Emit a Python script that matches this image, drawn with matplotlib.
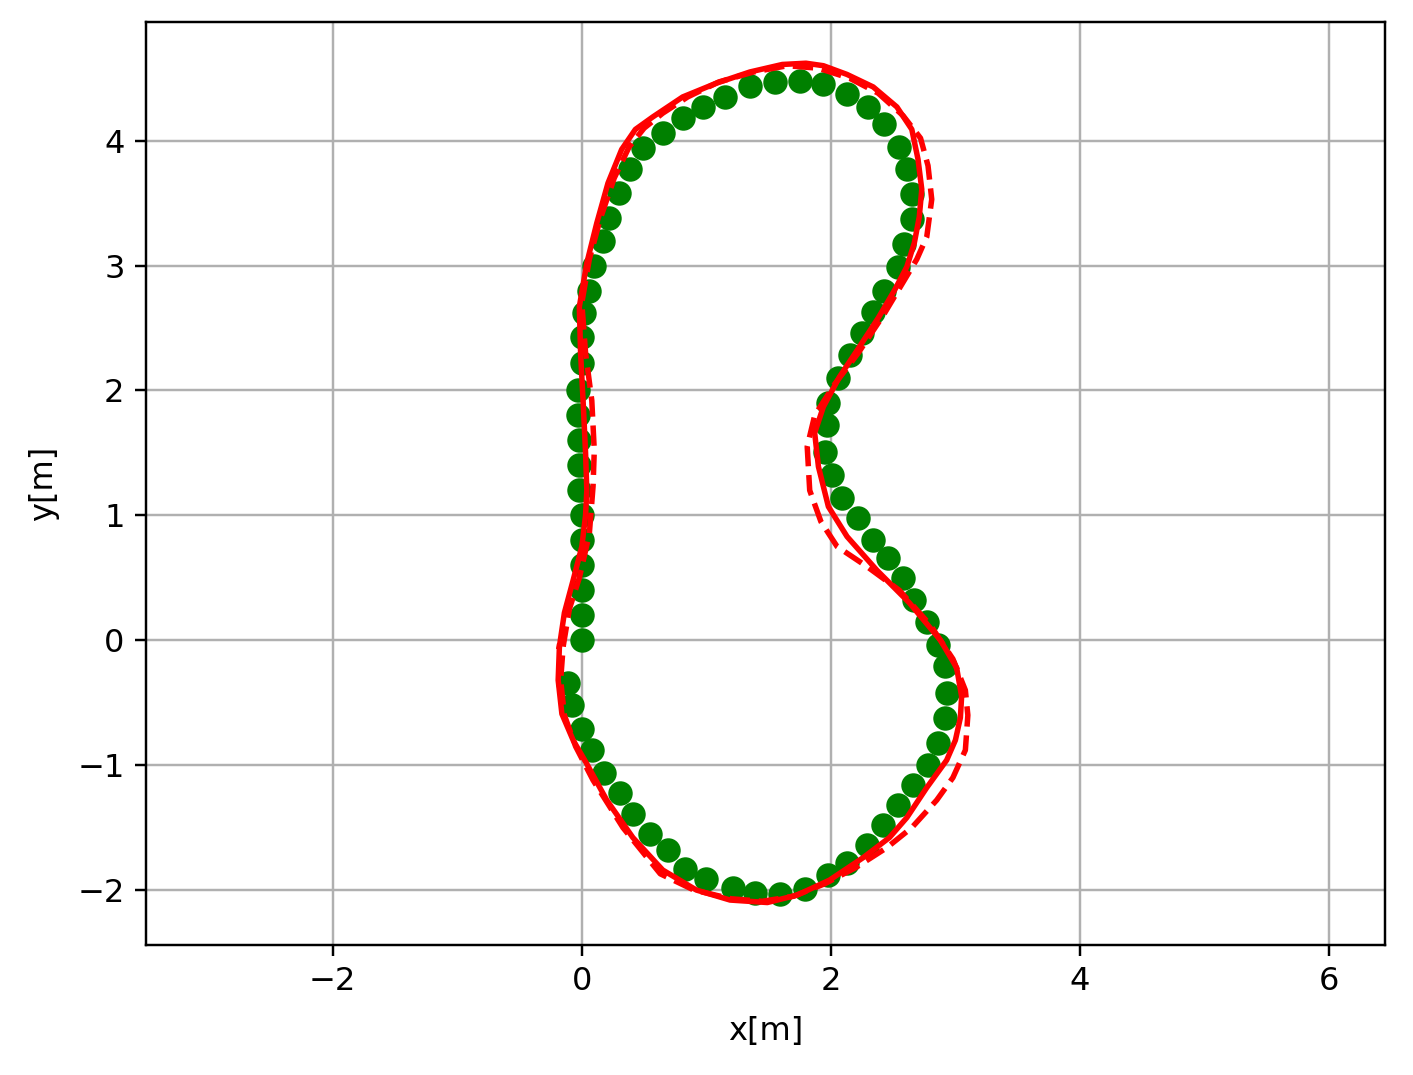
import numpy as np
import matplotlib.pyplot as plt

plt.rcParams['font.size'] = 10.5

# reference waypoints (green dots)
wp_x = [0.0, 0.0, 0.0, 0.0, 0.0, 0.0, -0.02, -0.02, -0.02, -0.03, -0.03, 0.0, 0.005, 0.02,
        0.06, 0.1, 0.17, 0.22, 0.3, 0.39, 0.49, 0.65, 0.81, 0.97, 1.15, 1.35, 1.55, 1.75,
        1.94, 2.13, 2.30, 2.43, 2.55, 2.61, 2.65, 2.65, 2.59, 2.54, 2.43, 2.34, 2.25, 2.15,
        2.06, 1.98, 1.97, 1.95, 2.01, 2.09, 2.22, 2.34, 2.46, 2.58, 2.67, 2.77, 2.86, 2.92,
        2.93, 2.92, 2.86, 2.78, 2.66, 2.54, 2.42, 2.29, 2.13, 1.98, 1.79, 1.59, 1.39, 1.21,
        1.0, 0.83, 0.69, 0.55, 0.41, 0.31, 0.18, 0.08, 0.0, -0.08, -0.11]
wp_y = [0.0, 0.2, 0.4, 0.6, 0.8, 1.0, 1.2, 1.4, 1.6, 1.8, 2.0, 2.22, 2.43, 2.62,
        2.80, 3.0, 3.2, 3.38, 3.58, 3.77, 3.94, 4.06, 4.18, 4.27, 4.35, 4.44, 4.47, 4.48,
        4.45, 4.37, 4.27, 4.13, 3.95, 3.77, 3.57, 3.37, 3.17, 2.99, 2.80, 2.63, 2.46, 2.28,
        2.10, 1.90, 1.72, 1.51, 1.32, 1.14, 0.98, 0.80, 0.66, 0.50, 0.32, 0.15, -0.04, -0.21,
        -0.42, -0.62, -0.82, -1.0, -1.16, -1.32, -1.48, -1.64, -1.78, -1.88, -1.99, -2.03, -2.02, -1.98,
        -1.91, -1.83, -1.68, -1.55, -1.39, -1.22, -1.06, -0.88, -0.71, -0.52, -0.34]

# tracked trajectory (solid red)
traj_x = [-0.18, -0.14, -0.07, 0.0, 0.03, 0.04, 0.03, 0.01, -0.01, -0.02, 0.04, 0.12, 0.21,
          0.32, 0.43, 0.57, 0.81, 1.08, 1.35, 1.61, 1.80, 1.94, 2.13, 2.34, 2.53, 2.65, 2.70,
          2.73, 2.71, 2.67, 2.61, 2.51, 2.38, 2.21, 2.07, 1.94, 1.87, 1.90, 1.98, 2.13, 2.37,
          2.63, 2.88, 3.01, 3.05, 3.04, 3.0, 2.93, 2.77, 2.61, 2.47, 2.26, 1.99, 1.73, 1.49,
          1.19, 0.92, 0.65, 0.41, 0.2, 0.04, -0.07, -0.16, -0.19, -0.18]
traj_y = [-0.05, 0.22, 0.48, 0.75, 1.0, 1.2, 1.5, 1.92, 2.3, 2.67, 3.02, 3.34, 3.66,
          3.93, 4.09, 4.19, 4.35, 4.46, 4.55, 4.61, 4.62, 4.60, 4.53, 4.43, 4.27, 4.09, 3.85,
          3.61, 3.39, 3.18, 2.99, 2.80, 2.58, 2.32, 2.11, 1.87, 1.66, 1.39, 1.07, 0.83, 0.56,
          0.30, 0.0, -0.22, -0.45, -0.62, -0.80, -0.96, -1.18, -1.42, -1.58, -1.74, -1.92, -2.04, -2.10,
          -2.08, -2.0, -1.84, -1.58, -1.28, -0.99, -0.80, -0.59, -0.32, -0.05]

# second trajectory (dashed red)
traj2_x = [-0.15, -0.10, -0.02, 0.06, 0.09, 0.10, 0.08, 0.03, 0.0, 0.06, 0.15, 0.26, 0.38,
           0.50, 0.65, 0.85, 1.1, 1.38, 1.65, 1.90, 2.15, 2.38, 2.58, 2.72, 2.78, 2.81, 2.77,
           2.69, 2.57, 2.42, 2.22, 2.03, 1.87, 1.81, 1.83, 1.92, 2.05, 2.29, 2.55, 2.80, 2.98,
           3.08, 3.10, 3.08, 2.98, 2.85, 2.65, 2.45, 2.20, 1.95, 1.70, 1.45, 1.20, 0.90, 0.63,
           0.33, 0.09, -0.05, -0.14, -0.17, -0.15]
traj2_y = [-0.05, 0.25, 0.5, 0.85, 1.23, 1.52, 1.92, 2.3, 2.7, 3.05, 3.38, 3.70, 3.95,
           4.10, 4.22, 4.35, 4.47, 4.55, 4.60, 4.58, 4.50, 4.38, 4.20, 4.02, 3.80, 3.53, 3.23,
           3.05, 2.85, 2.60, 2.30, 2.05, 1.80, 1.55, 1.20, 0.95, 0.75, 0.59, 0.40, 0.12, -0.15,
           -0.40, -0.60, -0.88, -1.10, -1.28, -1.50, -1.66, -1.82, -1.95, -2.05, -2.09, -2.07, -2.0, -1.87,
           -1.50, -1.12, -0.85, -0.60, -0.32, -0.05]

fig = plt.figure(figsize=(1413 / 220, 1075 / 220), dpi=220)
ax = fig.add_axes([146 / 1413, 1 - 945 / 1075, 1239 / 1413, 923 / 1075])

ax.plot(wp_x, wp_y, "o", color="green", markersize=7)
ax.plot(traj2_x, traj2_y, "--", color="red", linewidth=1.8)
ax.plot(traj_x, traj_y, "-", color="red", linewidth=1.8)

ax.set_xlim(-3.5, 6.45)
ax.set_ylim(-2.44, 4.95)
ax.set_xticks([-2, 0, 2, 4, 6])
ax.set_yticks([-2, -1, 0, 1, 2, 3, 4])
ax.grid(True)
ax.set_xlabel("x[m]", labelpad=6)
ax.set_ylabel("y[m]", labelpad=6)

fig.savefig("out.png", dpi=220)
